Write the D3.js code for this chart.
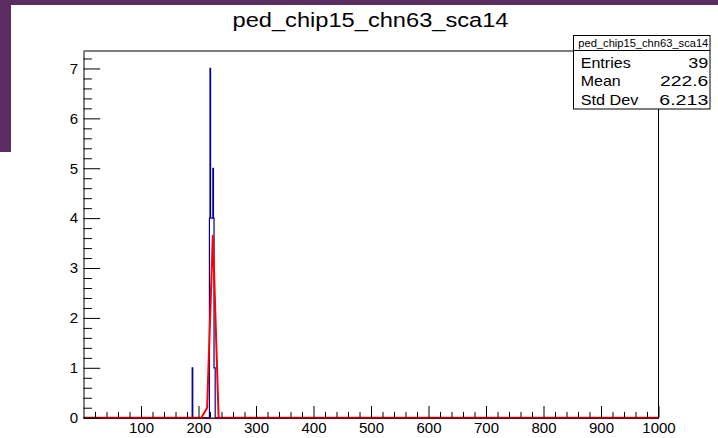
<!DOCTYPE html>
<html>
<head>
<meta charset="utf-8">
<script src="https://cdn.jsdelivr.net/npm/d3@7"></script>
<style>
  html, body { margin: 0; padding: 0; background: #ffffff; }
  svg { display: block; }
  text { font-family: "Liberation Sans", Arial, Helvetica, sans-serif; }
</style>
</head>
<body>
<svg id="chart" width="718" height="438"></svg>
<script>
// Histogram content: lower edge of each filled bin (bin width 1) and its count
const binLow = [189, 219, 220, 221, 222, 223, 224, 225, 226, 227, 228];
const binCounts = [1, 4, 7, 4, 4, 4, 4, 5, 4, 1, 1];

// Gaussian fit, sampled as drawn
const fitX = [0, 205, 215, 225, 235, 1000];
const fitY = [0, 0, 0.2, 3.66, 0, 0];

// Axis ticks
const xMajorTicks = [100, 200, 300, 400, 500, 600, 700, 800, 900, 1000];
const yMajorTicks = [0, 1, 2, 3, 4, 5, 6, 7];

// Titles and statistics box
const histName = "ped_chip15_chn63_sca14";
const statLabels = ["Entries", "Mean", "Std Dev"];
const statValues = ["39", "222.6", "6.213"];

const xMin = 0, xMax = 1000, nBins = 1000, yMax = 7.35;

const svg = d3.select("#chart");

// desktop background strips around the canvas
svg.append("rect").attr("x", 0).attr("y", 0).attr("width", 718).attr("height", 5).attr("fill", "#5b2d63");
svg.append("rect").attr("x", 0).attr("y", 0).attr("width", 11).attr("height", 152).attr("fill", "#5b2d63");

const x = d3.scaleLinear().domain([xMin, xMax]).range([83.5, 658.5]);
const y = d3.scaleLinear().domain([0, yMax]).range([417.7, 51]);

// title
svg.append("text")
  .attr("x", 370.5).attr("y", 27)
  .attr("text-anchor", "middle")
  .attr("font-size", 20.5)
  .attr("textLength", 276).attr("lengthAdjust", "spacingAndGlyphs")
  .text(histName);

// full bin array
const counts = new Array(nBins).fill(0);
binLow.forEach((b, i) => { counts[b - xMin] = binCounts[i]; });

// step outline of the histogram
const pts = [];
pts.push([xMin, 0]);
for (let i = 0; i < nBins; i++) {
  pts.push([xMin + i, counts[i]]);
  pts.push([xMin + i + 1, counts[i]]);
}
pts.push([xMax, 0]);
const line = d3.line().x(d => x(d[0])).y(d => y(d[1]));

svg.append("path")
  .attr("d", line(pts))
  .attr("fill", "none")
  .attr("stroke", "#00009a")
  .attr("stroke-width", 1.2);

// fit function
svg.append("path")
  .attr("d", line(fitX.map((v, i) => [v, fitY[i]])))
  .attr("fill", "none")
  .attr("stroke", "#ff0000")
  .attr("stroke-width", 2);

// frame top and right
svg.append("line").attr("x1", 83.5).attr("x2", 658.5).attr("y1", 51).attr("y2", 51)
  .attr("stroke", "#000").attr("stroke-width", 1);
svg.append("line").attr("x1", 658.5).attr("x2", 658.5).attr("y1", 51).attr("y2", 417.7)
  .attr("stroke", "#000").attr("stroke-width", 1);

// x axis: major and minor ticks pointing inward
const xMinor = d3.range(20, 1000, 20).filter(v => v % 100 !== 0);
const xAxisG = svg.append("g").attr("transform", `translate(0,${y(0)})`);
xAxisG.call(d3.axisBottom(x).tickValues(xMajorTicks).tickSizeInner(-11.7).tickSizeOuter(0).tickPadding(5).tickFormat(d3.format("d")));
xAxisG.select(".domain").attr("stroke", "#7a0010").attr("stroke-width", 1.4);
xAxisG.selectAll("text").attr("font-size", 15).attr("fill", "#000").attr("font-family", "Liberation Sans, Arial, sans-serif");
svg.append("g").attr("transform", `translate(0,${y(0)})`)
  .call(d3.axisBottom(x).tickValues(xMinor).tickSizeInner(-5.8).tickSizeOuter(0).tickFormat(""))
  .call(g => g.select(".domain").remove());

// y axis
const yMinor = d3.range(0.2, yMax, 0.2).filter(v => Math.abs(v - Math.round(v)) > 1e-6);
const yAxisG = svg.append("g").attr("transform", `translate(${x(xMin)},0)`);
yAxisG.call(d3.axisLeft(y).tickValues(yMajorTicks).tickSizeInner(-16.7).tickSizeOuter(0).tickPadding(5.5).tickFormat(d3.format("d")));
yAxisG.select(".domain").attr("stroke", "#000");
yAxisG.selectAll("text").attr("font-size", 15).attr("fill", "#000").attr("font-family", "Liberation Sans, Arial, sans-serif");
svg.append("g").attr("transform", `translate(${x(xMin)},0)`)
  .call(d3.axisLeft(y).tickValues(yMinor).tickSizeInner(-8.4).tickSizeOuter(0).tickFormat(""))
  .call(g => g.select(".domain").remove());

// statistics box
const box = svg.append("g");
box.append("rect").attr("x", 573.5).attr("y", 35.5).attr("width", 136.5).attr("height", 73.5)
  .attr("fill", "#fff").attr("stroke", "#000").attr("stroke-width", 1);
box.append("line").attr("x1", 573.5).attr("x2", 710).attr("y1", 50.5).attr("y2", 50.5)
  .attr("stroke", "#000").attr("stroke-width", 1);
box.append("text").attr("x", 643.3).attr("y", 47).attr("text-anchor", "middle")
  .attr("font-size", 10).attr("textLength", 130).attr("lengthAdjust", "spacingAndGlyphs")
  .text(histName);
const labelWidths = [50, 40, 57.7];
const valueWidths = [20, 48.3, 49];
const rowBase = [67.5, 86.4, 105];
statLabels.forEach((s, i) => {
  box.append("text").attr("x", 580.7).attr("y", rowBase[i]).attr("font-size", 14.5)
    .attr("textLength", labelWidths[i]).attr("lengthAdjust", "spacingAndGlyphs").text(s);
  box.append("text").attr("x", 708.3).attr("y", rowBase[i]).attr("font-size", 14.5)
    .attr("text-anchor", "end")
    .attr("textLength", valueWidths[i]).attr("lengthAdjust", "spacingAndGlyphs").text(statValues[i]);
});
</script>
</body>
</html>
